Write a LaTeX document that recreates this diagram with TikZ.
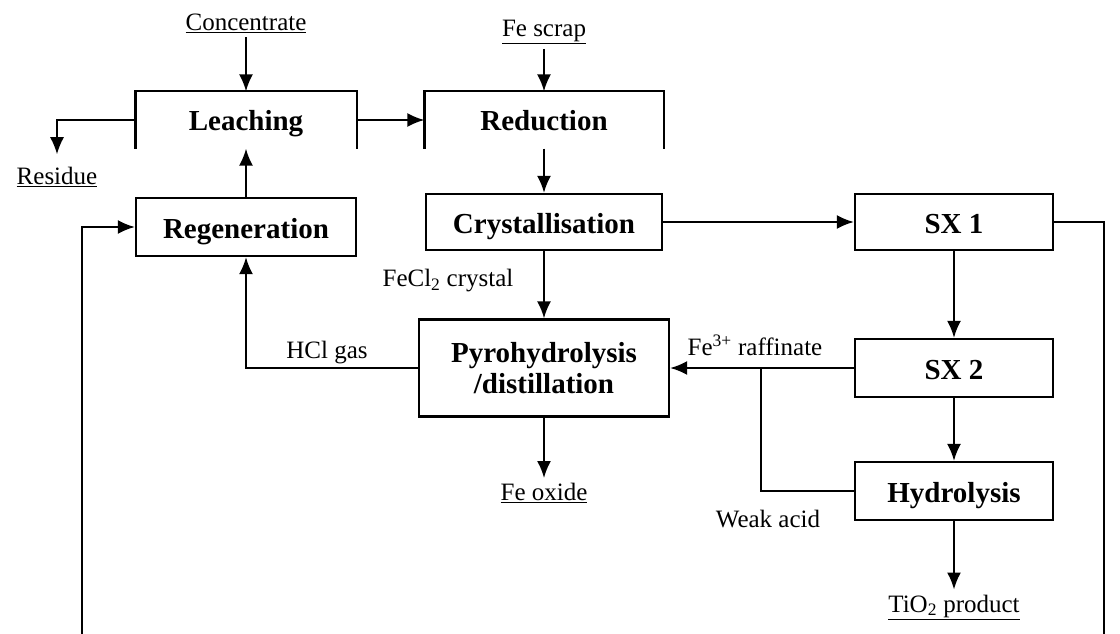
\documentclass[tikz,border=0pt]{standalone}
\usepackage{fontspec}
\setmainfont{Liberation Serif}
\usetikzlibrary{arrows.meta}

\tikzset{
  unit/.style={draw, line width=2.2pt, inner sep=0pt, align=center,
    font=\fontsize{29}{31}\selectfont\bfseries},
  oneline/.style={text height=22pt, text depth=0pt},
  openunit/.style={unit, draw=none},
  stream/.style={inner sep=4pt, font=\fontsize{25}{27}\selectfont},
}

\begin{document}
\begin{tikzpicture}[x=1pt,y=-1pt,>={Latex[length=17pt,width=14pt]},line width=2.2pt,node distance=100pt]
    \useasboundingbox (0,0) rectangle (1120,634);

    % process units
    \node[openunit, oneline, minimum width=219pt, minimum height=55pt] (leach) at (246,120) {Leaching};
    \node[openunit, oneline, minimum width=237pt, minimum height=55pt] (reduct) [right of=leach, node distance=298pt] {Reduction};
    \node[unit, oneline, minimum width=236pt, minimum height=56pt] (cryst) [below of=reduct, node distance=102pt] {Crystallisation};
    \node[unit, oneline, minimum width=220pt, minimum height=58pt] (regen) [below of=leach, node distance=107pt] {Regeneration};
    \node[unit, oneline, minimum width=198pt, minimum height=56pt] (sx1) [right of=cryst, node distance=410pt] {SX 1};
    \node[unit, minimum width=250pt, minimum height=97pt] (pyro) [below of=cryst, node distance=146pt] {Pyrohydrolysis\\/distillation};
    \node[unit, oneline, minimum width=198pt, minimum height=58pt] (sx2) [below of=sx1, node distance=146pt] {SX 2};
    \node[unit, oneline, minimum width=198pt, minimum height=58pt] (hydro) [below of=sx2, node distance=123pt] {Hydrolysis};

    \draw[line width=2.2pt] (leach.south west) -- (leach.north west) -- (leach.north east) -- (leach.south east);
    \draw[line width=2.2pt] (reduct.south west) -- (reduct.north west) -- (reduct.north east) -- (reduct.south east);

    % streams in and out
    \node[stream] (conc) [above of=leach, node distance=97pt] {\underline{Concentrate}};
    \node[stream] (scrap) [above of=reduct, node distance=88pt] {\underline{Fe scrap}};
    \node[stream] (resid) at (57,177) {\underline{Residue}};
    \node[stream] (oxide) [below of=pyro, node distance=125pt] {\underline{Fe oxide}};
    \node[stream] (tio2) [below of=hydro, node distance=116pt] {\underline{TiO\textsubscript{2} product}};
    \node[stream] (crystal) at (448,281) {FeCl\textsubscript{2} crystal};
    \node[stream] (hcl) at (327,353) {HCl gas};
    \node[stream] (raff) at (755,345) {Fe\textsuperscript{3+} raffinate};
    \node[stream] (weak) at (768,519) {Weak acid};

    \coordinate (junc) at (761,368);
    \coordinate (rbot) at (1104,642);
    \coordinate (lbot) at (82,642);

    \path[->] (conc) edge (leach.north);
    \path[->] (scrap) edge (reduct.north);
    \path[->] (leach.east) edge (reduct.west);
    \path[->] (reduct.south) edge (cryst.north);
    \path[->] (regen.north) edge (leach.south);
    \path[->] (cryst.east) edge (sx1.west);
    \path[->] (cryst.south) edge (pyro.north);
    \path[->] (sx1.south) edge (sx2.north);
    \path[->] (sx2.south) edge (hydro.north);
    \path[->] (sx2.west) edge (pyro.east);
    \path[->] (pyro.south) edge (oxide.north);
    \path[->] (hydro.south) edge (tio2.north);

    \draw[->, line width=1.2pt, shorten >=8pt] (leach.west) -| (resid.north);
    \draw[->] (pyro.west) -| (regen.south);
    \draw (hydro.west) -| (junc);
    \draw[->] (sx1.east) -| (rbot) -- (lbot) |- (regen.west);
\end{tikzpicture}
\end{document}
